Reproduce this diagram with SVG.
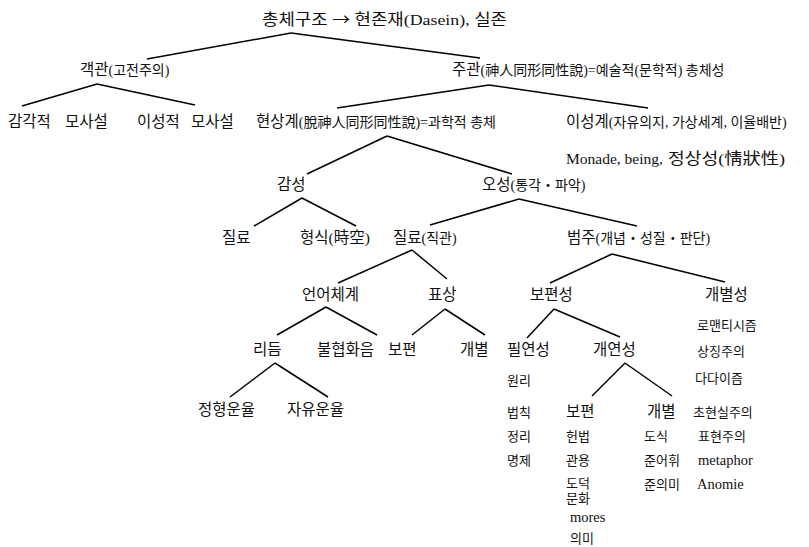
<svg xmlns="http://www.w3.org/2000/svg" width="809" height="547" viewBox="0 0 809 547">
<style>
text{font-family:"Liberation Serif","Noto Sans CJK KR",serif;fill:#111;font-size:15.5px}
.s{font-size:14px}
.t{font-size:13px}
.l{font-size:14.5px}
.arr{font-family:"Noto Sans CJK KR",sans-serif}
#connectors line{stroke:#000;stroke-width:1.5}
</style>
<rect width="809" height="547" fill="#fff"/>
<g id="connectors">
<line x1="291" y1="33" x2="147" y2="59"/>
<line x1="291" y1="33" x2="480" y2="58"/>
<line x1="97" y1="84" x2="22" y2="106"/>
<line x1="97" y1="84" x2="195" y2="105"/>
<line x1="489" y1="85" x2="337" y2="108"/>
<line x1="489" y1="85" x2="648" y2="108"/>
<line x1="387" y1="136" x2="307" y2="174"/>
<line x1="387" y1="136" x2="512" y2="174"/>
<line x1="302" y1="198" x2="254" y2="226"/>
<line x1="302" y1="198" x2="356" y2="226"/>
<line x1="519" y1="199" x2="430" y2="225"/>
<line x1="519" y1="199" x2="637" y2="226"/>
<line x1="412" y1="250" x2="338" y2="283"/>
<line x1="412" y1="250" x2="447" y2="279"/>
<line x1="612" y1="254" x2="550" y2="283"/>
<line x1="612" y1="254" x2="725" y2="282"/>
<line x1="326" y1="307" x2="277" y2="335"/>
<line x1="326" y1="307" x2="377" y2="335"/>
<line x1="445" y1="309" x2="412" y2="335"/>
<line x1="445" y1="309" x2="485" y2="335"/>
<line x1="554" y1="309" x2="527" y2="338"/>
<line x1="554" y1="309" x2="620" y2="337"/>
<line x1="275" y1="363" x2="230" y2="397"/>
<line x1="275" y1="363" x2="328" y2="397"/>
<line x1="625" y1="363" x2="592" y2="396"/>
<line x1="625" y1="363" x2="672" y2="396"/>
</g>
<g id="root"><text x="262" y="25" font-size="16.5" textLength="245" lengthAdjust="spacingAndGlyphs">총체구조 <tspan class="arr">→</tspan> 현존재(Dasein), 실존</text></g>
<g id="gaekgwan"><text x="80" y="75">객관<tspan class="s">(고전주의)</tspan></text></g>
<g id="jugwan"><text x="452" y="75">주관<tspan class="s">(神人同形同性說)=예술적(문학적) 총체성</tspan></text></g>
<g id="gamgak"><text x="8" y="127">감각적</text><text x="65" y="127">모사설</text></g>
<g id="iseong-mosa"><text x="137" y="127">이성적</text><text x="191" y="127">모사설</text></g>
<g id="hyeonsang"><text x="256" y="127">현상계<tspan class="s">(脫神人同形同性說)=과학적 총체</tspan></text></g>
<g id="iseonggye"><text x="566" y="127">이성계<tspan class="s">(자유의지, 가상세계, 이율배반)</tspan></text></g>
<g id="monade"><text x="566" y="164">Monade, being,</text><text x="668" y="164" textLength="117" lengthAdjust="spacingAndGlyphs">정상성(情狀性)</text></g>
<g id="gamseong"><text x="277" y="190">감성</text></g>
<g id="oseong"><text x="482" y="190">오성<tspan class="s">(통각・파악)</tspan></text></g>
<g id="jilyo1"><text x="222" y="243">질료</text></g>
<g id="hyeongsik"><text x="300" y="243">형식(時空)</text></g>
<g id="jilyo2"><text x="393" y="243">질료<tspan class="s">(직관)</tspan></text></g>
<g id="beomju"><text x="567" y="243">범주<tspan class="s">(개념・성질・판단)</tspan></text></g>
<g id="eoneo"><text x="302" y="300">언어체계</text></g>
<g id="pyosang"><text x="428" y="300">표상</text></g>
<g id="bopyeonseong"><text x="530" y="300">보편성</text></g>
<g id="gaebyeolseong"><text x="705" y="300">개별성</text></g>
<g id="rideum"><text x="253" y="355">리듬</text></g>
<g id="bulhyeop"><text x="317" y="355">불협화음</text></g>
<g id="bopyeon1"><text x="388" y="355">보편</text></g>
<g id="gaebyeol1"><text x="460" y="355">개별</text></g>
<g id="pilyeon"><text x="507" y="355">필연성</text></g>
<g id="gaeyeon"><text x="593" y="355">개연성</text></g>
<g id="gaebyeolseong-list">
<text class="t" x="697" y="330">로맨티시즘</text>
<text class="t" x="697" y="356">상징주의</text>
<text class="t" x="695" y="383">다다이즘</text>
<text class="t" x="693" y="417">초현실주의</text>
<text class="t" x="698" y="441">표현주의</text>
<text class="l" x="698" y="465">metaphor</text>
<text class="l" x="697" y="489">Anomie</text>
</g>
<g id="jeonghyeong"><text x="198" y="415">정형운율</text></g>
<g id="jayu"><text x="287" y="415">자유운율</text></g>
<g id="pilyeon-list">
<text class="t" x="507" y="385">원리</text>
<text class="t" x="507" y="417">법칙</text>
<text class="t" x="507" y="441">정리</text>
<text class="t" x="507" y="465">명제</text>
</g>
<g id="bopyeon2">
<text x="566" y="417">보편</text>
<text class="t" x="566" y="441">헌법</text>
<text class="t" x="566" y="465">관용</text>
<text class="t" x="566" y="488">도덕</text>
<text class="t" x="566" y="503">문화</text>
<text class="l" x="570" y="522">mores</text>
<text class="t" x="570" y="543">의미</text>
</g>
<g id="gaebyeol2">
<text x="647" y="417">개별</text>
<text class="t" x="644" y="441">도식</text>
<text class="t" x="644" y="465">준어휘</text>
<text class="t" x="644" y="489">준의미</text>
</g>
</svg>
